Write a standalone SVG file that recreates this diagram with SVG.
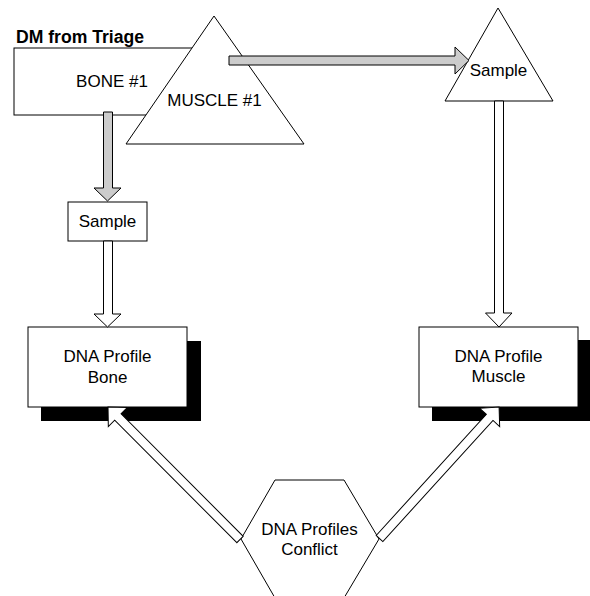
<svg xmlns="http://www.w3.org/2000/svg" width="590" height="596" viewBox="0 0 590 596">
<style>
.shape{fill:#fff;stroke:#000;stroke-width:1}
.shadow{fill:#000;stroke:none}
.garrow{fill:#cccccc;stroke:#000;stroke-width:1}
.warrow{fill:#fff;stroke:#000;stroke-width:1}
text{font-family:"Liberation Sans",Arial,sans-serif;font-size:17px;fill:#000;text-anchor:middle}
.title{font-weight:bold;text-anchor:start;font-size:17.6px}
</style>
<rect width="590" height="596" fill="#fff"/>
<g id="bone1">
<text class="title" x="16" y="43">DM from Triage</text>
<rect class="shape" x="14" y="48" width="196" height="67"/>
<text x="112" y="87">BONE #1</text>
</g>
<g id="muscle1">
<polygon class="shape" points="214,16 304,144 126,144"/>
<text x="214.5" y="106">MUSCLE #1</text>
</g>
<g id="sampleRight">
<polygon class="shape" points="498,8 553,101 445,101"/>
<text x="498.5" y="76">Sample</text>
</g>
<g id="sampleLeft">
<rect class="shape" x="68" y="202" width="79" height="39"/>
<text x="107.5" y="227">Sample</text>
</g>
<g id="profileBone">
<rect class="shadow" x="41" y="341" width="160" height="80"/>
<rect class="shape" x="28" y="327" width="159" height="80"/>
<text x="107.5" y="362">DNA Profile</text>
<text x="107.5" y="383">Bone</text>
</g>
<g id="profileMuscle">
<rect class="shadow" x="432" y="340" width="160" height="81"/>
<rect class="shape" x="419" y="327" width="159" height="80"/>
<text x="498.5" y="362">DNA Profile</text>
<text x="498.5" y="382">Muscle</text>
</g>
<g id="conflict">
<polygon class="shape" points="275,480 344,480 379,539 344,598 275,598 241,539"/>
<text x="309.5" y="535">DNA Profiles</text>
<text x="309.5" y="555">Conflict</text>
</g>
<g id="connectors">
<polygon class="garrow" points="229,56 455,56 455,47 469,60.5 455,74 455,65 229,65"/>
<polygon class="garrow" points="103.5,112 112.5,112 112.5,188 121,188 107.5,201 94,188 103.5,188"/>
<polygon class="warrow" points="103.5,241 112.5,241 112.5,314 121,314 107.5,327 94,314 103.5,314"/>
<polygon class="warrow" points="494.5,101 503.5,101 503.5,313 512,313 499,327 485.5,313 494.5,313"/>
<polygon class="warrow" transform="translate(240,539.5) rotate(-134.9)" points="0,-4.5 173,-4.5 173,-13.5 187,0 173,13.5 173,4.5 0,4.5"/>
<polygon class="warrow" transform="translate(379.5,538.5) rotate(-47.7)" points="0,-4.5 163.7,-4.5 163.7,-13.5 177.7,0 163.7,13.5 163.7,4.5 0,4.5"/>
</g>
</svg>
